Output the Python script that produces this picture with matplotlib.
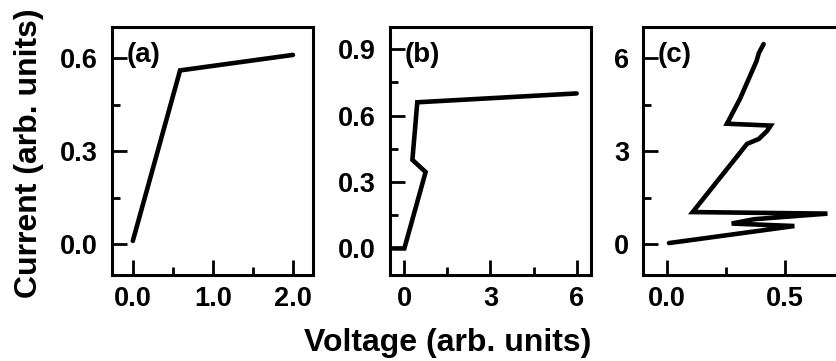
import matplotlib
matplotlib.use("Agg")
import matplotlib.pyplot as plt
from matplotlib.ticker import MultipleLocator, FormatStrFormatter

plt.rcParams['font.family'] = ['Liberation Sans', 'DejaVu Sans']
plt.rcParams['font.weight'] = 'bold'

# panel (a)
va = [0.0, 0.59, 2.0]
ia = [0.01, 0.56, 0.61]

# panel (b)
vb = [-0.4, 0.0, 0.74, 0.28, 0.45, 6.0]
ib = [0.0, 0.0, 0.345, 0.40, 0.66, 0.70]

# panel (c)
vc = [0.01, 0.54, 0.275, 0.37, 0.68, 0.11, 0.34, 0.39, 0.425, 0.44, 0.255,
      0.31, 0.38, 0.39, 0.41]
ic = [0.03, 0.58, 0.66, 0.80, 0.98, 1.03, 3.23, 3.39, 3.65, 3.82, 3.88,
      4.68, 5.9, 6.16, 6.45]

panels = [
    (va, ia, "(a)", (-0.26, 2.25), (-0.1, 0.7), 1.0, 0.5, 0.3, 0.15, "%.1f", "%.1f"),
    (vb, ib, "(b)", (-0.5, 6.5), (-0.12, 1.0), 3, 1.5, 0.3, 0.15, "%d", "%.1f"),
    (vc, ic, "(c)", (-0.1, 0.75), (-1, 7), 0.5, 0.25, 3, 1.5, "%.1f", "%d"),
]
lefts = [112, 390, 643]

fig = plt.figure(figsize=(8.37, 3.61), dpi=100)

for (x, y, tag, xl, yl, xmaj, xmin, ymaj, ymin, xf, yf), left in zip(panels, lefts):
    ax = fig.add_axes([left / 837, 86 / 361, 201 / 837, 248 / 361])
    ax.plot(x, y, color='black', lw=3.3, solid_joinstyle='miter', solid_capstyle='round')
    ax.set_xlim(xl)
    ax.set_ylim(yl)
    ax.xaxis.set_major_locator(MultipleLocator(xmaj))
    ax.xaxis.set_minor_locator(MultipleLocator(xmin))
    ax.yaxis.set_major_locator(MultipleLocator(ymaj))
    ax.yaxis.set_minor_locator(MultipleLocator(ymin))
    ax.xaxis.set_major_formatter(FormatStrFormatter(xf))
    ax.yaxis.set_major_formatter(FormatStrFormatter(yf))
    ax.tick_params(which='both', direction='in', width=2, top=False, right=False,
                   labelsize=19.5)
    ax.tick_params(axis='y', which='major', length=11, pad=10)
    ax.tick_params(axis='x', which='major', length=11, pad=8)
    ax.tick_params(which='minor', length=6)
    for s in ax.spines.values():
        s.set_linewidth(2.2)
    ax.text(0.075, 0.94, tag, transform=ax.transAxes, fontsize=20,
            fontweight='bold', va='top', ha='left')

fig.text(448 / 837, 1 - 343 / 361, "Voltage (arb. units)", fontsize=23,
         fontweight='bold', ha='center', va='center')
fig.text(29 / 837, 1 - 153 / 361, "Current (arb. units)", fontsize=23,
         fontweight='bold', ha='center', va='center', rotation=90)

fig.savefig("out.png", dpi=100)
